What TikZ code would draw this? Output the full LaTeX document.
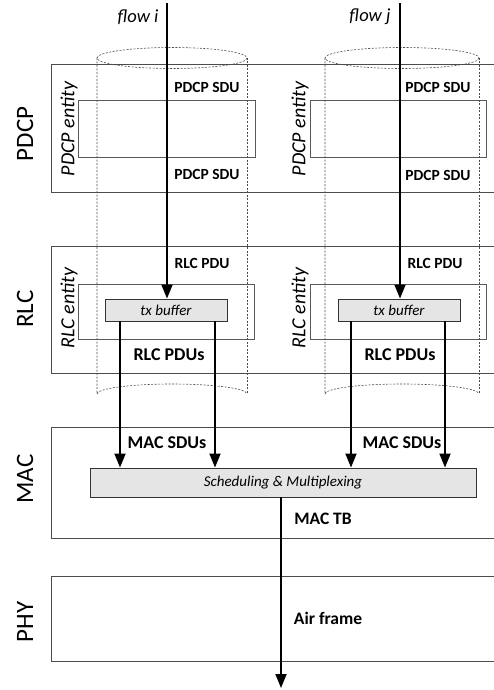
\documentclass[tikz,border=0pt]{standalone}
\usepackage{fontspec}
\setmainfont{Carlito}
\usetikzlibrary{arrows.meta}
\begin{document}
\begin{tikzpicture}[x=1pt,y=-1pt,
  layer/.style={draw=black!70,line width=0.8pt},
  cyl/.style={draw=black!70,dashed,dash pattern=on 2pt off 1.5pt,line width=0.6pt},
  flow/.style={line width=1.8pt,-{Triangle[length=14pt,width=11pt]}},
  graybox/.style={draw=black!80,fill=black!10,line width=0.9pt,inner sep=0pt},
  big/.style={font=\fontsize{25}{25}\selectfont,rotate=90,inner sep=0pt},
  ent/.style={font=\fontsize{20}{20}\selectfont\itshape,rotate=90,inner sep=0pt},
  sdu/.style={font=\fontsize{15.5}{15.5}\selectfont\bfseries,inner sep=0pt},
  pdus/.style={font=\fontsize{18}{18}\selectfont\bfseries,inner sep=0pt},
  flowlbl/.style={font=\fontsize{18.5}{18.5}\selectfont\itshape,inner sep=0pt}]
\useasboundingbox (0,0) rectangle (494,690);
% layer boxes (open to the right edge)
\draw[layer] (496,64) -| (51,192) -- (496,192);
\draw[layer] (496,246) -| (51,373) -- (496,373);
\draw[layer] (496,427) -| (51,538) -- (496,538);
\draw[layer] (496,576) -| (51,661) -- (496,661);
% layer labels
\node[big] (lpdcp) at (25,134) {PDCP};
\node[big] (lrlc) at (25,309) {RLC};
\node[big] (lmac) at (25,479) {MAC};
\node[big] (lphy) at (25,622) {PHY};
% entity rectangles
\draw[layer,draw=black!65] (78,100) rectangle (255,157);
\draw[layer,draw=black!65] (310,100) rectangle (486,157);
\draw[layer,draw=black!65] (78,284) rectangle (254,339);
\draw[layer,draw=black!65] (310,284) rectangle (486,339);
\node[ent] (pei) at (69,129) {PDCP entity};
\node[ent] (pej) at (300,129) {PDCP entity};
\node[ent] (rei) at (69,308) {RLC entity};
\node[ent] (rej) at (300,308) {RLC entity};
% cylinders
\foreach \cx/\rx in {172/75,402/77}{
  \draw[cyl] (\cx,58) ellipse [x radius=\rx,y radius=10.5];
  \draw[cyl] (\cx-\rx,58) -- (\cx-\rx,394) arc[start angle=180,end angle=360,x radius=\rx,y radius=10];
  \draw[cyl] (\cx+\rx,58) -- (\cx+\rx,394);
}
% buffers and scheduler
\node[graybox,minimum width=122pt,minimum height=22pt,font=\fontsize{15}{15}\selectfont\itshape] (txi) at (166,310) {tx buffer};
\node[graybox,minimum width=122pt,minimum height=22pt,font=\fontsize{15}{15}\selectfont\itshape] (txj) at (399,310) {tx buffer};
\node[graybox,minimum width=386pt,minimum height=29pt,font=\fontsize{15}{15}\selectfont\itshape] (sched) at (283,482.5) {Scheduling \& Multiplexing};
% flows
\coordinate (fi) at (167,3);
\coordinate (fj) at (400,3);
\node[flowlbl] (flbi) at (138,17) {flow i};
\node[flowlbl] (flbj) at (370,17) {flow j};
\draw[flow] (fi) -- (fi |- txi.north);
\draw[flow] (fj) -- (fj |- txj.north);
\foreach \x in {120,215}{\draw[flow] (txi.south -| \x,0) -- (sched.north -| \x,0);}
\foreach \x in {351,445}{\draw[flow] (txj.south -| \x,0) -- (sched.north -| \x,0);}
\coordinate (out) at (281,688);
\draw[flow] (sched.south -| out) -- (out);
% labels
\node[sdu] (s1) at (207,87) {PDCP SDU};
\node[sdu] (s2) at (207,174) {PDCP SDU};
\node[sdu] (s3) at (438,87) {PDCP SDU};
\node[sdu] (s4) at (438,175) {PDCP SDU};
\node[sdu] (r1) at (202,263) {RLC PDU};
\node[sdu] (r2) at (435,263) {RLC PDU};
\node[pdus] (p1) at (169,355) {RLC PDUs};
\node[pdus] (p2) at (400,355) {RLC PDUs};
\node[pdus] (m1) at (167,443) {MAC SDUs};
\node[pdus] (m2) at (402,443) {MAC SDUs};
\node[pdus,font=\fontsize{17.5}{17.5}\selectfont\bfseries] (tb) at (323,519) {MAC TB};
\node[pdus,font=\fontsize{17.5}{17.5}\selectfont\bfseries] (air) at (328,618) {Air frame};
\end{tikzpicture}
\end{document}
